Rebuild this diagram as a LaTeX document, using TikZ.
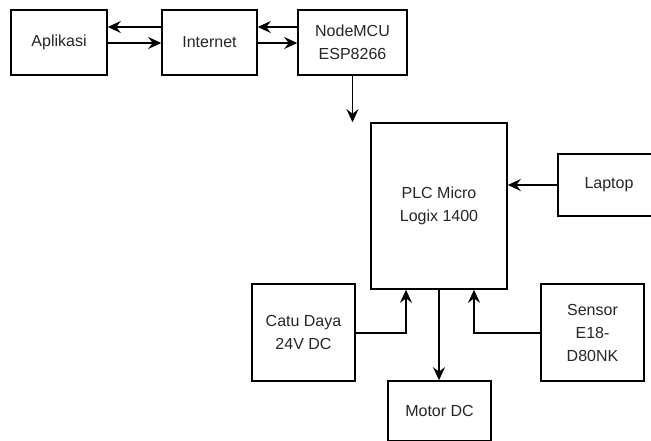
\documentclass[tikz,border=0pt]{standalone}
\usepackage{fontspec}
\setmainfont{Liberation Sans}
\usetikzlibrary{arrows.meta}
\begin{document}
\begin{tikzpicture}[x=1pt,y=-1pt,
  box/.style={draw,line width=1.6pt,inner sep=0pt,align=center,text=black!85,font=\fontsize{16}{23}\selectfont},
  arr/.style={line width=1.6pt,-{Stealth[length=13pt,width=12pt,inset=4.5pt]}}]
\useasboundingbox[fill=white] (0,0) rectangle (651,441);
\begin{scope}
\clip (0,0) rectangle (651,441);
\node[box,minimum width=96pt,minimum height=65pt] (apl) at (59,42.5) {Aplikasi};
\node[box,minimum width=95pt,minimum height=65pt] (inet) at (209.5,42.5) {Internet};
\node[box,minimum width=109pt,minimum height=65pt] (mcu) at (352.5,42.5) {NodeMCU\\ESP8266};
\node[box,minimum width=136pt,minimum height=166pt] (plc) at (439,206) {PLC Micro\\Logix 1400};
\node[box,minimum width=102pt,minimum height=62pt] (lap) at (609,185) {Laptop};
\node[box,minimum width=103pt,minimum height=97pt] (catu) at (303.5,332.5) {Catu Daya\\24V DC};
\node[box,minimum width=103pt,minimum height=97pt] (sens) at (592.5,332.5) {Sensor\\E18-\\D80NK};
\node[box,minimum width=103pt,minimum height=60pt] (mot) at (439.5,411) {Motor DC};
\end{scope}
\draw[arr] (inet.west |- 0,27) -- (apl.east |- 0,27);
\draw[arr] (apl.east |- 0,43) -- (inet.west |- 0,43);
\draw[arr] (mcu.west |- 0,27) -- (inet.east |- 0,27);
\draw[arr] (inet.east |- 0,43) -- (mcu.west |- 0,43);
\draw[arr] (mcu.south) -- (plc.north -| mcu.south);
\draw[arr] (lap.west) -- (plc.east |- lap.west);
\draw[arr] (plc.south -| 439,0) -- (mot.north -| 439,0);
\draw[arr] (catu.east |- 0,333) -| (406,0 |- plc.south);
\draw[arr] (sens.west |- 0,333) -| (474,0 |- plc.south);
\end{tikzpicture}
\end{document}
